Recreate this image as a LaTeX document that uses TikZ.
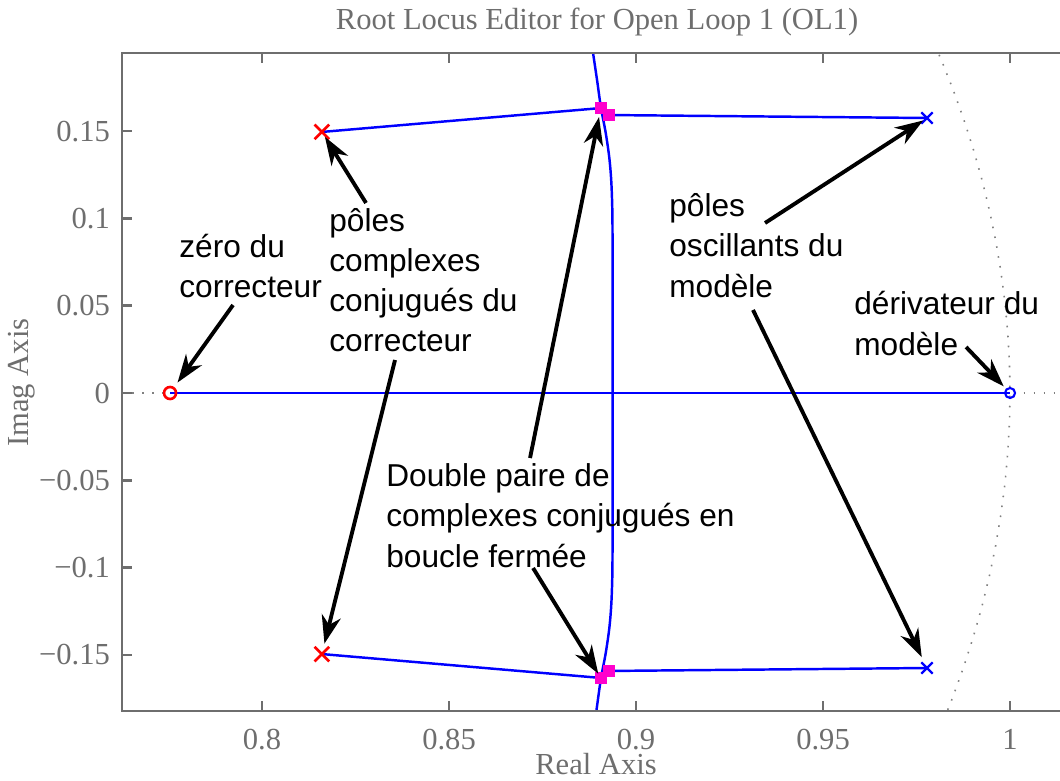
\documentclass[tikz,border=0pt]{standalone}
\usepackage{fontspec}
\setmainfont{Liberation Serif}
\newfontfamily\notefont{Liberation Sans}
\usetikzlibrary{arrows.meta}
\usetikzlibrary{shapes.misc}
\definecolor{axisgray}{RGB}{110,110,110}
\definecolor{locusblue}{RGB}{0,0,255}
\definecolor{clmagenta}{RGB}{255,0,204}
\tikzset{%
  axe/.style={axisgray, line width=1.5pt},
  ticklabel/.style={text=axisgray, inner sep=0pt, font=\fontsize{17.4}{20}\selectfont},
  locus/.style={locusblue, line width=1.4pt},
  dotline/.style={gray, line width=0.9pt, dash pattern=on 0.9pt off 4.8pt},
  fleche/.style={-{Stealth[length=16pt, width=11pt, inset=5pt]}, line width=2.2pt},
  note/.style={anchor=base west, align=left, inner sep=0pt, font=\notefont\fontsize{18}{22.8}\selectfont},
  polemark/.style={cross out, draw, inner sep=0pt},
  zeromark/.style={circle, draw, inner sep=0pt},
  clmark/.style={fill=clmagenta, minimum size=0.23cm, inner sep=0pt}
}

\begin{document}
\begin{tikzpicture}[x=74.8cm, y=34.92cm]
\useasboundingbox (0.72995,-0.22165) rectangle (1.01337,0.22509);

% poles et zeros
\coordinate (Z)  at (0.7754, 0);
\coordinate (D)  at (1, 0);
\coordinate (P1) at (0.8160, 0.1495);
\coordinate (P2) at (0.8160, -0.1495);
\coordinate (M1) at (0.9778, 0.1575);
\coordinate (M2) at (0.9778, -0.1575);
\coordinate (A1) at (0.8906, 0.1632);
\coordinate (B1) at (0.8928, 0.1592);
\coordinate (A2) at (0.8906, -0.1632);
\coordinate (B2) at (0.8928, -0.1592);

\begin{scope}
  \clip (0.76257,-0.18213) rectangle (1.01337,0.19473);
  \draw [dotline] (0.76257,0) -- (1.01337,0);
  \draw [dotline] plot [domain=-12:12, samples=80] ({cos(\x)},{sin(\x)});

  \draw [locus] (Z) -- (D);
  \draw [locus] (P1) -- (A1);
  \draw [locus] (B1) -- (M1);
  \draw [locus] (P2) -- (A2);
  \draw [locus] (B2) -- (M2);
  \draw [locus] plot [smooth, tension=0.6] coordinates {
    (0.88850,0.19473) (0.88957,0.17927) (0.89064,0.16323) (0.89198,0.14777)
    (0.89305,0.13058) (0.89358,0.11054) (0.89372,0.0819) (0.89372,0)
    (0.89372,-0.0819) (0.89358,-0.11054) (0.89305,-0.13058) (0.89198,-0.14777)
    (0.89064,-0.16323) (0.88957,-0.17927) (0.8894,-0.18213)};
\end{scope}

\node (Zm)  [zeromark, draw=red, line width=1.5pt, minimum size=0.24cm] at (Z) {};
\node (Dm)  [zeromark, draw=locusblue, line width=1.2pt, minimum size=0.2cm] at (D) {};
\node (P1m) [polemark, draw=red, line width=1.5pt, minimum size=0.24cm] at (P1) {};
\node (P2m) [polemark, draw=red, line width=1.5pt, minimum size=0.24cm] at (P2) {};
\node (M1m) [polemark, draw=locusblue, line width=1.3pt, minimum size=0.18cm] at (M1) {};
\node (M2m) [polemark, draw=locusblue, line width=1.3pt, minimum size=0.18cm] at (M2) {};
\node (A1m) [clmark] at (A1) {};
\node (B1m) [clmark] at (B1) {};
\node (A2m) [clmark] at (A2) {};
\node (B2m) [clmark] at (B2) {};

% axes
\draw [axe] (1.01337,0.19473) -- (0.76257,0.19473) -- (0.76257,-0.18213) -- (1.01337,-0.18213);
\foreach \r in {0.8,0.85,0.9,0.95,1} {
  \draw [axe] (\r,-0.18213) -- +(0,0.0057);
  \draw [axe] (\r,0.19473) -- +(0,-0.0057);
  \node (X\r) [ticklabel, anchor=base] at (\r,-0.2040) {\r};
}
\foreach \v/\t in {0.15/0.15,0.1/0.1,0.05/0.05,0/0,-0.05/−0.05,-0.1/−0.1,-0.15/−0.15} {
  \draw [axe] (0.76257,\v) -- +(0.0027,0);
  \node (Y\v) [ticklabel, anchor=east] at (0.7594,\v) {\t};
}

\node (titre) [ticklabel, anchor=base] at (0.88957,0.2079) {Root Locus Editor for Open Loop 1 (OL1)};
\node (xlab) [ticklabel, anchor=base, text depth=0pt] at (0.8893,-0.2186) {Real Axis};
\node (ylab) [ticklabel, rotate=90] at (0.7358,0.006) {Imag Axis};

% annotations
\node (zeroTxt) [note] at (0.77781,0.05441) {zéro du\\correcteur};
\node (corrTxt) [note] at (0.81791,0.02348) {pôles\\complexes\\conjugués du\\correcteur};
\node (bfTxt)   [note] at (0.83316,-0.09966) {Double paire de\\complexes conjugués en\\boucle fermée};
\node (oscTxt)  [note] at (0.90882,0.05498) {pôles\\oscillants du\\modèle};
\node (derTxt)  [note] at (0.95829,0.02176) {dérivateur du\\modèle};

\coordinate (zt)  at (0.79225,0.0504);
\coordinate (pt1) at (0.82781,0.10882);
\coordinate (pt2) at (0.83556,0.0189);
\coordinate (dt1) at (0.87166,-0.03723);
\coordinate (dt2) at (0.87246,-0.10023);
\coordinate (ot1) at (0.93449,0.09737);
\coordinate (ot2) at (0.93128,0.04754);
\coordinate (dvt) at (0.98824,0.02635);

\draw [fleche, shorten >=7.3pt] (zt) -- (Z);
\draw [fleche, shorten >=3.3pt] (pt1) -- (P1);
\draw [fleche, shorten >=6.1pt] (pt2) -- (P2);
\draw [fleche, shorten >=5.2pt] (dt1) -- (A1);
\draw [fleche, shorten >=2.8pt] (dt2) -- (A2);
\draw [fleche, shorten >=2.6pt] (ot1) -- (M1);
\draw [fleche, shorten >=6.8pt] (ot2) -- (M2);
\draw [fleche, shorten >=5.2pt] (dvt) -- (D);
\end{tikzpicture}
\end{document}
